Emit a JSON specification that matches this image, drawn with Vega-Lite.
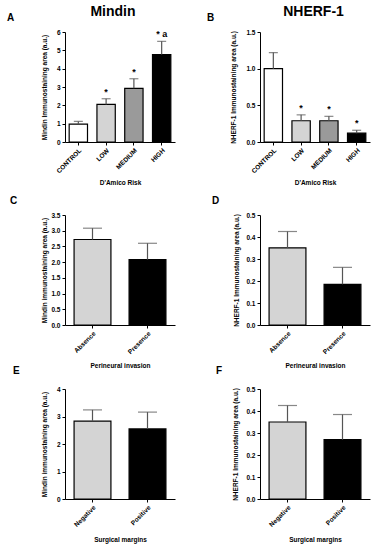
{
  "$schema": "https://vega.github.io/schema/vega-lite/v6.json",
  "padding": {"left": 7, "top": 5, "right": 5, "bottom": 5},
  "background": "white",
  "config": {
    "view": {"stroke": null},
    "font": "Liberation Sans",
    "axis": {
      "labelFont": "Liberation Sans", "labelFontSize": 6.5, "labelFontWeight": "bold", "labelColor": "black",
      "titleFont": "Liberation Sans", "titleFontSize": 6.5, "titleFontWeight": "bold", "titleColor": "black",
      "domainColor": "black", "domainWidth": 1, "tickColor": "black", "tickSize": 3, "grid": false, "labelPadding": 2
    },
    "axisX": {"labelAngle": -45, "minExtent": 28, "maxExtent": 28, "titlePadding": 9},
    "axisY": {"minExtent": 14, "maxExtent": 14, "titlePadding": 4, "labelOverlap": false},
    "title": {"font": "Liberation Sans", "fontWeight": "bold", "color": "black"}
  },
  "datasets": {
    "A": [
      {"group": "CONTROL", "mean": 0.97, "upper": 1.12, "sig": ""},
      {"group": "LOW", "mean": 2.05, "upper": 2.36, "sig": "*"},
      {"group": "MEDIUM", "mean": 2.93, "upper": 3.45, "sig": "*"},
      {"group": "HIGH", "mean": 4.77, "upper": 5.49, "sig": "* a"}
    ],
    "B": [
      {"group": "CONTROL", "mean": 1.0, "upper": 1.22, "sig": ""},
      {"group": "LOW", "mean": 0.29, "upper": 0.37, "sig": "*"},
      {"group": "MEDIUM", "mean": 0.29, "upper": 0.35, "sig": "*"},
      {"group": "HIGH", "mean": 0.12, "upper": 0.16, "sig": "*"}
    ],
    "C": [
      {"group": "Absence", "mean": 2.72, "upper": 3.08},
      {"group": "Presence", "mean": 2.08, "upper": 2.6}
    ],
    "D": [
      {"group": "Absence", "mean": 0.351, "upper": 0.425},
      {"group": "Presence", "mean": 0.185, "upper": 0.262}
    ],
    "E": [
      {"group": "Negative", "mean": 2.83, "upper": 3.24},
      {"group": "Positive", "mean": 2.55, "upper": 3.16}
    ],
    "F": [
      {"group": "Negative", "mean": 0.35, "upper": 0.425},
      {"group": "Positive", "mean": 0.27, "upper": 0.384}
    ]
  },
  "spacing": 32,
  "resolve": {"scale": {"fill": "independent"}},
  "hconcat": [
    {
      "title": {"text": "Mindin", "fontSize": 14, "anchor": "middle", "dx": 22, "offset": -6},
      "spacing": 10,
      "resolve": {"scale": {"fill": "independent"}},
      "vconcat": [
        {
          "width": 110, "height": 110,
          "title": {"text": "A", "anchor": "start", "frame": "group", "dx": -58, "fontSize": 10, "offset": 6},
          "data": {"name": "A"},
          "encoding": {"x": {"field": "group", "type": "nominal", "sort": null, "scale": {"paddingInner": 0.34, "paddingOuter": 0.15}, "axis": {"title": "D'Amico Risk"}}},
          "layer": [
            {"mark": {"type": "bar", "stroke": "black", "strokeWidth": 1.2},
             "encoding": {
               "y": {"field": "mean", "type": "quantitative", "scale": {"domain": [0, 6], "nice": false}, "axis": {"values": [0, 1, 2, 3, 4, 5, 6], "title": "Mindin Immunostaining area (a.u.)"}},
               "fill": {"field": "group", "type": "nominal", "scale": {"domain": ["CONTROL", "LOW", "MEDIUM", "HIGH"], "range": ["#ffffff", "#d4d4d4", "#9a9a9a", "#000000"]}, "legend": null}}},
            {"mark": {"type": "rule", "color": "#555555", "strokeWidth": 1.2},
             "encoding": {"y": {"field": "mean", "type": "quantitative", "scale": {"domain": [0, 6], "nice": false}, "axis": {"values": [0, 1, 2, 3, 4, 5, 6], "title": "Mindin Immunostaining area (a.u.)"}}, "y2": {"field": "upper"}}},
            {"mark": {"type": "tick", "color": "#555555", "size": 9, "thickness": 1.2},
             "encoding": {"y": {"field": "upper", "type": "quantitative", "scale": {"domain": [0, 6], "nice": false}, "axis": {"values": [0, 1, 2, 3, 4, 5, 6], "title": "Mindin Immunostaining area (a.u.)"}}}},
            {"mark": {"type": "text", "dy": -7, "fontSize": 9, "font": "Liberation Sans", "fontWeight": "bold"},
             "encoding": {"y": {"field": "upper", "type": "quantitative", "scale": {"domain": [0, 6], "nice": false}, "axis": {"values": [0, 1, 2, 3, 4, 5, 6], "title": "Mindin Immunostaining area (a.u.)"}}, "text": {"field": "sig"}}}
          ]
        },
        {
          "spacing": -3,
          "resolve": {"scale": {"fill": "independent"}},
          "vconcat": [
            {
              "width": 110, "height": 110,
              "title": {"text": "C", "anchor": "start", "frame": "group", "dx": -55, "fontSize": 10, "offset": 6},
              "data": {"name": "C"},
              "encoding": {"x": {"field": "group", "type": "nominal", "sort": null, "scale": {"paddingInner": 0.33, "paddingOuter": 0.165}, "axis": {"title": "Perineural invasion"}}},
              "layer": [
                {"mark": {"type": "bar", "stroke": "black", "strokeWidth": 1.2},
                 "encoding": {
                   "y": {"field": "mean", "type": "quantitative", "scale": {"domain": [0, 3.5], "nice": false}, "axis": {"values": [0, 0.5, 1, 1.5, 2, 2.5, 3, 3.5], "format": ".1f", "title": "Mindin immunostaining area (a.u.)"}},
                   "fill": {"field": "group", "type": "nominal", "scale": {"domain": ["Absence", "Presence"], "range": ["#d4d4d4", "#000000"]}, "legend": null}}},
                {"mark": {"type": "rule", "color": "#555555", "strokeWidth": 1.2},
                 "encoding": {"y": {"field": "mean", "type": "quantitative", "scale": {"domain": [0, 3.5], "nice": false}, "axis": {"values": [0, 0.5, 1, 1.5, 2, 2.5, 3, 3.5], "format": ".1f", "title": "Mindin immunostaining area (a.u.)"}}, "y2": {"field": "upper"}}},
                {"mark": {"type": "tick", "color": "#555555", "size": 19, "thickness": 1.2},
                 "encoding": {"y": {"field": "upper", "type": "quantitative", "scale": {"domain": [0, 3.5], "nice": false}, "axis": {"values": [0, 0.5, 1, 1.5, 2, 2.5, 3, 3.5], "format": ".1f", "title": "Mindin immunostaining area (a.u.)"}}}}
              ]
            },
            {
              "width": 110, "height": 110,
              "title": {"text": "E", "anchor": "start", "frame": "group", "dx": -52, "fontSize": 10, "offset": 10},
              "data": {"name": "E"},
              "encoding": {"x": {"field": "group", "type": "nominal", "sort": null, "scale": {"paddingInner": 0.33, "paddingOuter": 0.165}, "axis": {"title": "Surgical margins"}}},
              "layer": [
                {"mark": {"type": "bar", "stroke": "black", "strokeWidth": 1.2},
                 "encoding": {
                   "y": {"field": "mean", "type": "quantitative", "scale": {"domain": [0, 4], "nice": false}, "axis": {"values": [0, 1, 2, 3, 4], "title": "Mindin immunostaining area (a.u.)"}},
                   "fill": {"field": "group", "type": "nominal", "scale": {"domain": ["Negative", "Positive"], "range": ["#d4d4d4", "#000000"]}, "legend": null}}},
                {"mark": {"type": "rule", "color": "#555555", "strokeWidth": 1.2},
                 "encoding": {"y": {"field": "mean", "type": "quantitative", "scale": {"domain": [0, 4], "nice": false}, "axis": {"values": [0, 1, 2, 3, 4], "title": "Mindin immunostaining area (a.u.)"}}, "y2": {"field": "upper"}}},
                {"mark": {"type": "tick", "color": "#555555", "size": 19, "thickness": 1.2},
                 "encoding": {"y": {"field": "upper", "type": "quantitative", "scale": {"domain": [0, 4], "nice": false}, "axis": {"values": [0, 1, 2, 3, 4], "title": "Mindin immunostaining area (a.u.)"}}}}
              ]
            }
          ]
        }
      ]
    },
    {
      "title": {"text": "NHERF-1", "fontSize": 14, "anchor": "middle", "dx": 25, "offset": -6},
      "spacing": 10,
      "resolve": {"scale": {"fill": "independent"}},
      "vconcat": [
        {
          "width": 110, "height": 110,
          "title": {"text": "B", "anchor": "start", "frame": "group", "dx": -53, "fontSize": 10, "offset": 6},
          "data": {"name": "B"},
          "encoding": {"x": {"field": "group", "type": "nominal", "sort": null, "scale": {"paddingInner": 0.34, "paddingOuter": 0.15}, "axis": {"title": "D'Amico Risk"}}},
          "layer": [
            {"mark": {"type": "bar", "stroke": "black", "strokeWidth": 1.2},
             "encoding": {
               "y": {"field": "mean", "type": "quantitative", "scale": {"domain": [0, 1.5], "nice": false}, "axis": {"values": [0, 0.5, 1, 1.5], "format": ".1f", "titlePadding": 10, "title": "NHERF-1 Immunostaining area (a.u.)"}},
               "fill": {"field": "group", "type": "nominal", "scale": {"domain": ["CONTROL", "LOW", "MEDIUM", "HIGH"], "range": ["#ffffff", "#d4d4d4", "#9a9a9a", "#000000"]}, "legend": null}}},
            {"mark": {"type": "rule", "color": "#555555", "strokeWidth": 1.2},
             "encoding": {"y": {"field": "mean", "type": "quantitative", "scale": {"domain": [0, 1.5], "nice": false}, "axis": {"values": [0, 0.5, 1, 1.5], "format": ".1f", "titlePadding": 10, "title": "NHERF-1 Immunostaining area (a.u.)"}}, "y2": {"field": "upper"}}},
            {"mark": {"type": "tick", "color": "#555555", "size": 9, "thickness": 1.2},
             "encoding": {"y": {"field": "upper", "type": "quantitative", "scale": {"domain": [0, 1.5], "nice": false}, "axis": {"values": [0, 0.5, 1, 1.5], "format": ".1f", "titlePadding": 10, "title": "NHERF-1 Immunostaining area (a.u.)"}}}},
            {"mark": {"type": "text", "dy": -7, "fontSize": 9, "font": "Liberation Sans", "fontWeight": "bold"},
             "encoding": {"y": {"field": "upper", "type": "quantitative", "scale": {"domain": [0, 1.5], "nice": false}, "axis": {"values": [0, 0.5, 1, 1.5], "format": ".1f", "titlePadding": 10, "title": "NHERF-1 Immunostaining area (a.u.)"}}, "text": {"field": "sig"}}}
          ]
        },
        {
          "spacing": -3,
          "resolve": {"scale": {"fill": "independent"}},
          "vconcat": [
            {
              "width": 110, "height": 110,
              "title": {"text": "D", "anchor": "start", "frame": "group", "dx": -48, "fontSize": 10, "offset": 6},
              "data": {"name": "D"},
              "encoding": {"x": {"field": "group", "type": "nominal", "sort": null, "scale": {"paddingInner": 0.33, "paddingOuter": 0.165}, "axis": {"title": "Perineural invasion"}}},
              "layer": [
                {"mark": {"type": "bar", "stroke": "black", "strokeWidth": 1.2},
                 "encoding": {
                   "y": {"field": "mean", "type": "quantitative", "scale": {"domain": [0, 0.5], "nice": false}, "axis": {"values": [0, 0.1, 0.2, 0.3, 0.4, 0.5], "format": ".1f", "titlePadding": 7, "title": "NHERF-1 Immunostaining area (a.u.)"}},
                   "fill": {"field": "group", "type": "nominal", "scale": {"domain": ["Absence", "Presence"], "range": ["#d4d4d4", "#000000"]}, "legend": null}}},
                {"mark": {"type": "rule", "color": "#555555", "strokeWidth": 1.2},
                 "encoding": {"y": {"field": "mean", "type": "quantitative", "scale": {"domain": [0, 0.5], "nice": false}, "axis": {"values": [0, 0.1, 0.2, 0.3, 0.4, 0.5], "format": ".1f", "titlePadding": 7, "title": "NHERF-1 Immunostaining area (a.u.)"}}, "y2": {"field": "upper"}}},
                {"mark": {"type": "tick", "color": "#555555", "size": 19, "thickness": 1.2},
                 "encoding": {"y": {"field": "upper", "type": "quantitative", "scale": {"domain": [0, 0.5], "nice": false}, "axis": {"values": [0, 0.1, 0.2, 0.3, 0.4, 0.5], "format": ".1f", "titlePadding": 7, "title": "NHERF-1 Immunostaining area (a.u.)"}}}}
              ]
            },
            {
              "width": 110, "height": 110,
              "title": {"text": "F", "anchor": "start", "frame": "group", "dx": -44, "fontSize": 10, "offset": 10},
              "data": {"name": "F"},
              "encoding": {"x": {"field": "group", "type": "nominal", "sort": null, "scale": {"paddingInner": 0.33, "paddingOuter": 0.165}, "axis": {"title": "Surgical margins"}}},
              "layer": [
                {"mark": {"type": "bar", "stroke": "black", "strokeWidth": 1.2},
                 "encoding": {
                   "y": {"field": "mean", "type": "quantitative", "scale": {"domain": [0, 0.5], "nice": false}, "axis": {"values": [0, 0.1, 0.2, 0.3, 0.4, 0.5], "format": ".1f", "titlePadding": 8, "title": "NHERF-1 Immunostaining area (a.u.)"}},
                   "fill": {"field": "group", "type": "nominal", "scale": {"domain": ["Negative", "Positive"], "range": ["#d4d4d4", "#000000"]}, "legend": null}}},
                {"mark": {"type": "rule", "color": "#555555", "strokeWidth": 1.2},
                 "encoding": {"y": {"field": "mean", "type": "quantitative", "scale": {"domain": [0, 0.5], "nice": false}, "axis": {"values": [0, 0.1, 0.2, 0.3, 0.4, 0.5], "format": ".1f", "titlePadding": 8, "title": "NHERF-1 Immunostaining area (a.u.)"}}, "y2": {"field": "upper"}}},
                {"mark": {"type": "tick", "color": "#555555", "size": 19, "thickness": 1.2},
                 "encoding": {"y": {"field": "upper", "type": "quantitative", "scale": {"domain": [0, 0.5], "nice": false}, "axis": {"values": [0, 0.1, 0.2, 0.3, 0.4, 0.5], "format": ".1f", "titlePadding": 8, "title": "NHERF-1 Immunostaining area (a.u.)"}}}}
              ]
            }
          ]
        }
      ]
    }
  ]
}
